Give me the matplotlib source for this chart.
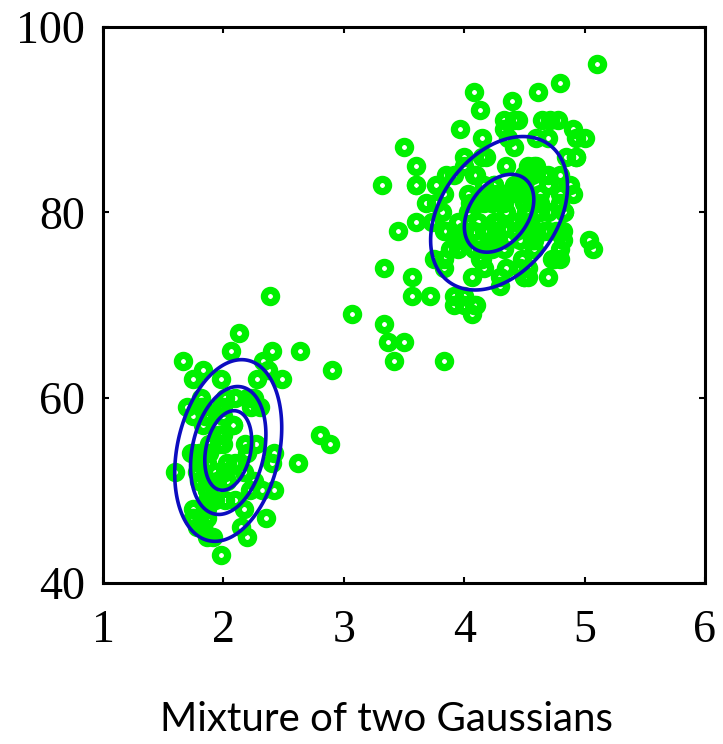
import numpy as np
import matplotlib
matplotlib.use("Agg")
import matplotlib.pyplot as plt

# Old Faithful: eruption time (min) and waiting time (min)
eruptions = [
    3.600, 1.800, 3.333, 2.283, 4.533, 2.883, 4.700, 3.600, 1.950, 4.350,
    1.833, 3.917, 4.200, 1.750, 4.700, 2.167, 1.750, 4.800, 1.600, 4.250,
    1.800, 1.750, 3.450, 3.067, 4.533, 3.600, 1.967, 4.083, 3.850, 4.433,
    4.300, 4.467, 3.367, 4.033, 3.833, 2.017, 1.867, 4.833, 1.833, 4.783,
    4.350, 1.883, 4.567, 1.750, 4.533, 3.317, 3.833, 2.100, 4.633, 2.000,
    4.800, 4.716, 1.833, 4.833, 1.733, 4.883, 3.717, 1.667, 4.567, 4.317,
    2.233, 4.500, 1.750, 4.800, 1.817, 4.400, 4.167, 4.700, 2.067, 4.700,
    4.033, 1.967, 4.500, 4.000, 1.983, 5.067, 2.017, 4.567, 3.883, 3.600,
    4.133, 4.333, 4.100, 2.633, 4.067, 4.933, 3.950, 4.517, 2.167, 4.000,
    2.200, 4.333, 1.867, 4.817, 1.833, 4.300, 4.667, 3.750, 1.867, 4.900,
    2.483, 4.367, 2.100, 4.500, 4.050, 1.867, 4.700, 1.783, 4.850, 3.683,
    4.733, 2.300, 4.900, 4.417, 1.700, 4.633, 2.317, 4.600, 1.817, 4.417,
    2.617, 4.067, 4.250, 1.967, 4.600, 3.767, 1.917, 4.500, 2.267, 4.650,
    1.867, 4.167, 2.800, 4.333, 1.833, 4.383, 1.883, 4.933, 2.033, 3.733,
    4.233, 2.233, 4.533, 4.817, 4.333, 1.983, 4.633, 2.017, 5.100, 1.800,
    5.033, 4.000, 2.400, 4.600, 3.567, 4.000, 4.500, 4.083, 1.800, 3.967,
    2.200, 4.150, 2.000, 3.833, 3.500, 4.583, 2.367, 5.000, 1.933, 4.617,
    1.917, 2.083, 4.583, 3.333, 4.167, 4.333, 4.500, 2.417, 4.000, 4.167,
    1.883, 4.583, 4.250, 3.767, 2.033, 4.433, 4.083, 1.833, 4.417, 2.183,
    4.800, 1.833, 4.800, 4.100, 3.966, 4.233, 3.500, 4.366, 2.250, 4.667,
    2.100, 4.350, 4.133, 1.867, 4.600, 1.783, 4.367, 3.850, 1.933, 4.500,
    2.383, 4.700, 1.867, 3.833, 3.417, 4.233, 2.400, 4.800, 2.000, 4.150,
    1.867, 4.267, 1.750, 4.483, 4.000, 4.117, 4.083, 4.267, 3.917, 4.550,
    4.083, 2.417, 4.183, 2.217, 4.450, 1.883, 1.850, 4.283, 3.950, 2.333,
    4.150, 2.350, 4.933, 2.900, 4.583, 3.833, 2.083, 4.367, 2.133, 4.350,
    2.200, 4.450, 3.567, 4.500, 4.150, 3.817, 3.917, 4.450, 2.000, 4.283,
    4.767, 4.533, 1.850, 4.250, 1.983, 2.250, 4.750, 4.117, 2.150, 4.417,
    1.817, 4.467,
]
waiting = [
    79, 54, 74, 62, 85, 55, 88, 85, 51, 85, 54, 84, 78, 47, 83, 52, 62, 84,
    52, 79, 51, 47, 78, 69, 74, 83, 55, 76, 78, 79, 73, 77, 66, 80, 74, 52,
    48, 80, 59, 90, 80, 58, 84, 58, 73, 83, 64, 53, 82, 59, 75, 90, 54, 80,
    54, 83, 71, 64, 77, 81, 59, 84, 48, 82, 60, 92, 78, 78, 65, 73, 82, 56,
    79, 71, 62, 76, 60, 78, 76, 83, 75, 82, 70, 65, 73, 88, 76, 80, 48, 86,
    60, 90, 50, 78, 63, 72, 84, 75, 51, 82, 62, 88, 49, 83, 81, 47, 84, 52,
    86, 81, 75, 59, 89, 79, 59, 81, 50, 85, 59, 87, 53, 69, 77, 56, 88, 81,
    45, 82, 55, 90, 45, 83, 56, 89, 46, 82, 51, 86, 53, 79, 81, 60, 82, 77,
    76, 59, 80, 49, 96, 53, 77, 77, 65, 81, 71, 70, 81, 93, 53, 89, 45, 86,
    58, 78, 66, 76, 63, 88, 52, 93, 49, 57, 77, 68, 81, 81, 73, 50, 85, 74,
    55, 77, 83, 83, 51, 78, 84, 46, 83, 55, 81, 57, 76, 84, 77, 81, 87, 77,
    51, 78, 60, 82, 91, 53, 78, 46, 77, 84, 49, 83, 71, 80, 49, 75, 64, 76,
    53, 94, 55, 76, 50, 82, 54, 75, 78, 79, 78, 78, 70, 79, 70, 54, 86, 50,
    90, 54, 54, 77, 79, 64, 75, 47, 86, 63, 85, 82, 57, 82, 67, 74, 54, 83,
    73, 73, 88, 80, 71, 83, 56, 79, 78, 84, 58, 83, 43, 60, 75, 81, 46, 90,
    46, 74,
]

# fitted components: mean, std devs, correlation, contour radii (Mahalanobis)
means = [(2.04, 54.3), (4.29, 79.9)]
sigmas = [(0.263, 5.8), (0.412, 6.0)]
rhos = [0.25, 0.35]
radii = [[0.74, 1.19, 1.69], [0.70, 1.38]]

xticks = [1, 2, 3, 4, 5, 6]
yticks = [40, 60, 80, 100]

fig = plt.figure(figsize=(7.23, 7.44), dpi=100)
ax = fig.add_axes([0.1425, 0.2164, 0.8325, 0.7473])

ax.plot(eruptions, waiting, "o", color="#00f000", markerfacecolor="none",
        markersize=8.8, markeredgewidth=5.2, linestyle="none", zorder=2)

gx, gy = np.meshgrid(np.linspace(1, 6, 400), np.linspace(40, 100, 400))
for (mx, my), (sx, sy), rho, rr in zip(means, sigmas, rhos, radii):
    dx = (gx - mx) / sx
    dy = (gy - my) / sy
    d2 = (dx * dx - 2 * rho * dx * dy + dy * dy) / (1 - rho * rho)
    ax.contour(gx, gy, np.sqrt(d2), levels=rr, colors="#0c0cc0",
               linewidths=2.6, zorder=3)

ax.set_xlim(1, 6)
ax.set_ylim(40, 100)
ax.set_xticks(xticks)
ax.set_yticks(yticks)
for s in ax.spines.values():
    s.set_linewidth(2.2)
ax.tick_params(direction="in", length=4, width=1.5, top=True, right=True,
               labelsize=33)
ax.tick_params(axis="x", pad=19)
ax.tick_params(axis="y", pad=13)
for lab in ax.get_xticklabels() + ax.get_yticklabels():
    lab.set_fontfamily("Liberation Serif")

fig.text(0.534, 0.008, "Mixture of two Gaussians", ha="center", va="bottom",
         fontsize=29, family="Lato")

fig.savefig("out.png", dpi=100)
